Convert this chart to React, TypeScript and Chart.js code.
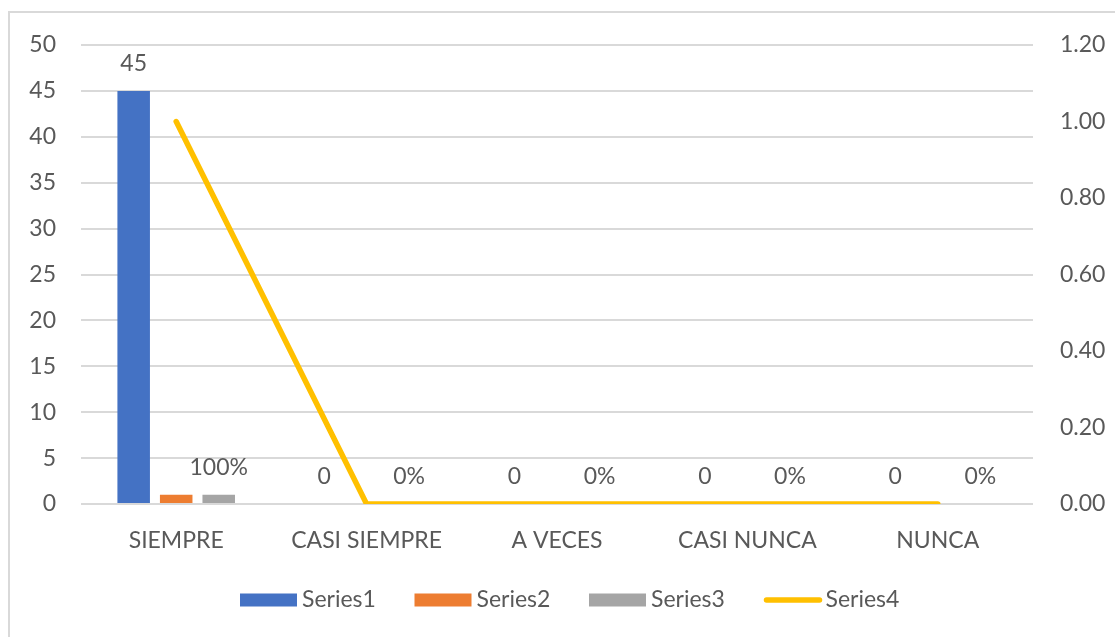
import React, { useEffect, useRef } from "react";
import { Chart, registerables } from "chart.js";
Chart.register(...registerables);

const categories = ["SIEMPRE", "CASI SIEMPRE", "A VECES", "CASI NUNCA", "NUNCA"];
const series1 = [45, 0, 0, 0, 0];
const series2 = [1, 0, 0, 0, 0];
const series3 = [1, 0, 0, 0, 0];
const series4 = [1, 0, 0, 0, 0];
const seriesNames = ["Series1", "Series2", "Series3", "Series4"];
const seriesColors = ["#4472C4", "#ED7D31", "#A5A5A5", "#FFC000"];
const leftMax = 50;
const leftStep = 5;
const rightMax = 1.2;
const rightStep = 0.2;

const FONT = "Lato, 'Open Sans', sans-serif";
const TEXT = "#595959";

const framePlugin = {
  id: "frame",
  beforeDraw(chart: any) {
    const ctx = chart.ctx;
    ctx.save();
    ctx.fillStyle = "#FFFFFF";
    ctx.fillRect(0, 0, chart.width, chart.height);
    ctx.strokeStyle = "#D9D9D9";
    ctx.lineWidth = 2;
    ctx.beginPath();
    ctx.moveTo(9, chart.height + 5);
    ctx.lineTo(9, 12);
    ctx.lineTo(chart.width + 5, 12);
    ctx.stroke();
    ctx.restore();
  },
};

const labelPlugin = {
  id: "valueLabels",
  afterDatasetsDraw(chart: any) {
    const ctx = chart.ctx;
    ctx.save();
    ctx.font = `23px ${FONT}`;
    ctx.fillStyle = TEXT;
    ctx.textAlign = "center";
    ctx.textBaseline = "middle";
    const draw = (dsIndex: number, fmt: (v: number) => string) => {
      const meta = chart.getDatasetMeta(dsIndex);
      const data = chart.data.datasets[dsIndex].data as number[];
      meta.data.forEach((el: any, i: number) => {
        ctx.fillText(fmt(data[i]), el.x, el.y - 27);
      });
    };
    draw(0, (v) => String(v));
    draw(2, (v) => `${Math.round(v * 100)}%`);
    ctx.restore();
  },
};

const legendPlugin = {
  id: "customLegend",
  afterDraw(chart: any) {
    const ctx = chart.ctx;
    ctx.save();
    const y = 600;
    const startX = 240;
    const pitch = 174.5;
    ctx.font = `23px ${FONT}`;
    ctx.textBaseline = "middle";
    ctx.textAlign = "left";
    seriesNames.forEach((name, i) => {
      const x = startX + i * pitch;
      if (i < 3) {
        ctx.fillStyle = seriesColors[i];
        ctx.fillRect(x, y - 6.5, 57, 13);
      } else {
        ctx.strokeStyle = seriesColors[i];
        ctx.lineWidth = 5.5;
        ctx.lineCap = "round";
        ctx.beginPath();
        ctx.moveTo(x + 3, y);
        ctx.lineTo(x + 56, y);
        ctx.stroke();
      }
      ctx.fillStyle = TEXT;
      ctx.fillText(name, x + 62, y);
    });
    ctx.restore();
  },
};

export default function App() {
  const ref = useRef<HTMLCanvasElement | null>(null);
  useEffect(() => {
    document.body.style.margin = "0";
    const canvas = ref.current!;
    const chart = new Chart(canvas, {
      type: "bar",
      data: {
        labels: categories,
        datasets: [
          { type: "bar", label: seriesNames[0], data: series1, backgroundColor: seriesColors[0], yAxisID: "y" },
          { type: "bar", label: seriesNames[1], data: series2, backgroundColor: seriesColors[1], yAxisID: "y" },
          { type: "bar", label: seriesNames[2], data: series3, backgroundColor: seriesColors[2], yAxisID: "y" },
          {
            type: "line",
            label: seriesNames[3],
            data: series4,
            borderColor: seriesColors[3],
            backgroundColor: seriesColors[3],
            borderWidth: 5.5,
            pointRadius: 0,
            tension: 0,
            borderCapStyle: "round",
            yAxisID: "y1",
            order: -1,
          } as any,
        ],
      },
      options: {
        responsive: false,
        animation: false,
        events: [],
        layout: { padding: { top: 45, left: 0, right: 0, bottom: 0 } },
        datasets: { bar: { categoryPercentage: 0.67, barPercentage: 0.765 } },
        plugins: { legend: { display: false }, tooltip: { enabled: false } },
        scales: {
          x: {
            grid: { display: false, drawTicks: false },
            border: { display: false },
            ticks: { color: TEXT, font: { family: FONT, size: 23 }, padding: 23 },
            afterFit(scale: any) {
              scale.height = 133;
            },
          },
          y: {
            position: "left",
            min: 0,
            max: leftMax,
            ticks: { stepSize: leftStep, color: TEXT, font: { family: FONT, size: 23 }, padding: 25 },
            grid: { color: "#D9D9D9", lineWidth: 2, drawTicks: false },
            border: { display: false },
            afterFit(scale: any) {
              scale.width = 81;
            },
          },
          y1: {
            position: "right",
            min: 0,
            max: rightMax,
            ticks: {
              stepSize: rightStep,
              color: TEXT,
              font: { family: FONT, size: 23 },
              padding: 27,
              callback: (v: any) => Number(v).toFixed(2),
            },
            grid: { display: false, drawTicks: false },
            border: { display: false },
            afterFit(scale: any) {
              scale.width = 82;
            },
          },
        },
      } as any,
      plugins: [framePlugin, labelPlugin, legendPlugin],
    });
    return () => chart.destroy();
  }, []);
  return (
    <div style={{ position: "fixed", left: 0, top: 0, width: 1115, height: 637 }}>
      <canvas ref={ref} width={1115} height={637} />
    </div>
  );
}
